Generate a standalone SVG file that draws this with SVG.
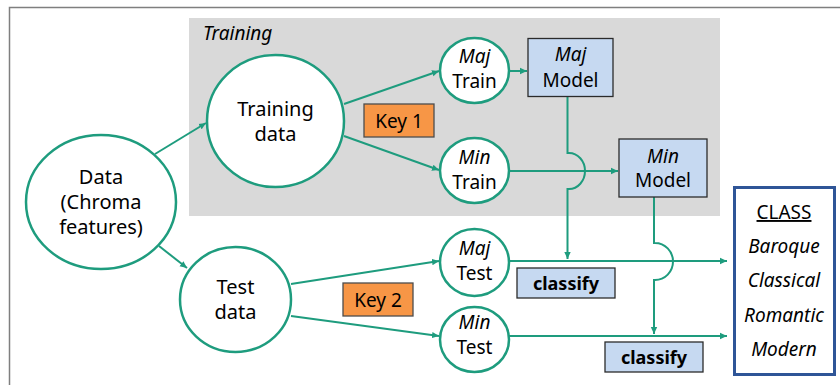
<svg xmlns="http://www.w3.org/2000/svg" width="840" height="385" viewBox="0 0 840 385">
  <style>
    text { font-family: "Noto Sans", "Open Sans", sans-serif; fill: #000; text-anchor: middle; }
    .t20 { font-size: 20px; }
    .t19 { font-size: 19px; }
    .it { font-style: italic; }
    .node { fill: #fff; stroke: #1e9c7e; stroke-width: 2.5; }
    .model { fill: #c6d9f1; stroke: #2b2b2b; stroke-width: 1.3; }
    .key { fill: #f79646; stroke: #4d4d4d; stroke-width: 1.3; }
    .edge { fill: none; stroke: #1e9c7e; stroke-width: 2; }
    .bold { font-weight: bold; font-size: 18px; }
  </style>
  <defs>
    <marker id="arrow" markerWidth="8" markerHeight="8" refX="7" refY="4" orient="auto" markerUnits="userSpaceOnUse">
      <path d="M0,0.8 L7,4 L0,7.2 Z" fill="#1e9c7e"/>
    </marker>
  </defs>

  <rect width="840" height="385" fill="#fff"/>
  <!-- outer frame -->
  <path d="M9.5,385 V7.5 H840" fill="none" stroke="#7f7f7f" stroke-width="1.5"/>

  <!-- training area -->
  <g id="training-area">
    <rect x="189" y="18" width="531" height="198" fill="#d9d9d9"/>
    <text x="203" y="40" class="t19 it" style="text-anchor:start">Training</text>
  </g>

  <!-- connectors -->
  <g id="connectors">
    <line class="edge" x1="155" y1="154" x2="206" y2="123" marker-end="url(#arrow)"/>
    <line class="edge" x1="159" y1="246" x2="187" y2="268" marker-end="url(#arrow)"/>
    <line class="edge" x1="344" y1="104" x2="439" y2="71" marker-end="url(#arrow)"/>
    <line class="edge" x1="344" y1="136" x2="439" y2="170" marker-end="url(#arrow)"/>
    <line class="edge" x1="509" y1="71" x2="527" y2="71" marker-end="url(#arrow)"/>
    <line class="edge" x1="509" y1="171" x2="618" y2="171" marker-end="url(#arrow)"/>
    <line class="edge" x1="291" y1="284" x2="439" y2="261" marker-end="url(#arrow)"/>
    <line class="edge" x1="291" y1="316" x2="439" y2="336" marker-end="url(#arrow)"/>
    <line class="edge" x1="509" y1="261" x2="727" y2="261" marker-end="url(#arrow)"/>
    <line class="edge" x1="509" y1="336" x2="727" y2="336" marker-end="url(#arrow)"/>
    <!-- model outputs hop over crossing lines -->
    <path class="edge" d="M567.5,97 V153 H569 A16,18 0 0 1 569,189 H567.5 V259" marker-end="url(#arrow)"/>
    <path class="edge" d="M654,197 V243 H655 A18,18.5 0 0 1 655,280 H654 V334" marker-end="url(#arrow)"/>
  </g>

  <g id="data">
    <ellipse class="node" cx="101" cy="202" rx="75" ry="67"/>
    <text class="t20" x="101" y="184">Data</text>
    <text class="t20" x="101" y="209">(Chroma</text>
    <text class="t20" x="101" y="234">features)</text>
  </g>

  <g id="training-data">
    <ellipse class="node" cx="275.5" cy="121" rx="68.5" ry="66"/>
    <text class="t20" x="275.5" y="116">Training</text>
    <text class="t20" x="275.5" y="141">data</text>
  </g>

  <g id="test-data">
    <ellipse class="node" cx="235.5" cy="299.5" rx="55.5" ry="52.5"/>
    <text class="t20" x="235.5" y="294">Test</text>
    <text class="t20" x="235.5" y="319">data</text>
  </g>

  <g id="key1">
    <rect class="key" x="364" y="104" width="70" height="33"/>
    <text class="t19" x="399" y="127.5">Key 1</text>
  </g>

  <g id="key2">
    <rect class="key" x="343" y="283" width="70" height="33"/>
    <text class="t19" x="378" y="306.5">Key 2</text>
  </g>

  <g id="maj-train">
    <ellipse class="node" cx="474.5" cy="70.5" rx="34.5" ry="32.5"/>
    <text class="t19 it" x="474.5" y="63">Maj</text>
    <text class="t19" x="474.5" y="88">Train</text>
  </g>

  <g id="min-train">
    <ellipse class="node" cx="474.5" cy="170.5" rx="34.5" ry="32.5"/>
    <text class="t19 it" x="474.5" y="164">Min</text>
    <text class="t19" x="474.5" y="189">Train</text>
  </g>

  <g id="maj-model">
    <rect class="model" x="528" y="38.5" width="85" height="58"/>
    <text class="t19 it" x="570.5" y="61">Maj</text>
    <text class="t19" x="570.5" y="87">Model</text>
  </g>

  <g id="min-model">
    <rect class="model" x="619" y="139" width="88" height="58"/>
    <text class="t19 it" x="663" y="163">Min</text>
    <text class="t19" x="663" y="187">Model</text>
  </g>

  <g id="maj-test">
    <ellipse class="node" cx="474.5" cy="262.5" rx="34.5" ry="33.5"/>
    <text class="t19 it" x="474.5" y="255">Maj</text>
    <text class="t19" x="474.5" y="280">Test</text>
  </g>

  <g id="min-test">
    <ellipse class="node" cx="474.5" cy="339.5" rx="34.5" ry="32.5"/>
    <text class="t19 it" x="474.5" y="329">Min</text>
    <text class="t19" x="474.5" y="354">Test</text>
  </g>

  <g id="classify-maj">
    <rect class="model" x="517" y="268" width="98" height="30"/>
    <text class="bold" x="566" y="289.5">classify</text>
  </g>

  <g id="classify-min">
    <rect class="model" x="605" y="342" width="98" height="30"/>
    <text class="bold" x="654" y="363.5">classify</text>
  </g>

  <g id="class">
    <rect x="734.5" y="187.5" width="100" height="187" fill="#fff" stroke="#2f5597" stroke-width="3"/>
    <text class="t19" x="784" y="219" style="text-decoration:underline">CLASS</text>
    <text class="t19 it" x="784" y="253">Baroque</text>
    <text class="t19 it" x="784" y="287">Classical</text>
    <text class="t19 it" x="784" y="322">Romantic</text>
    <text class="t19 it" x="784" y="356">Modern</text>
  </g>
</svg>
